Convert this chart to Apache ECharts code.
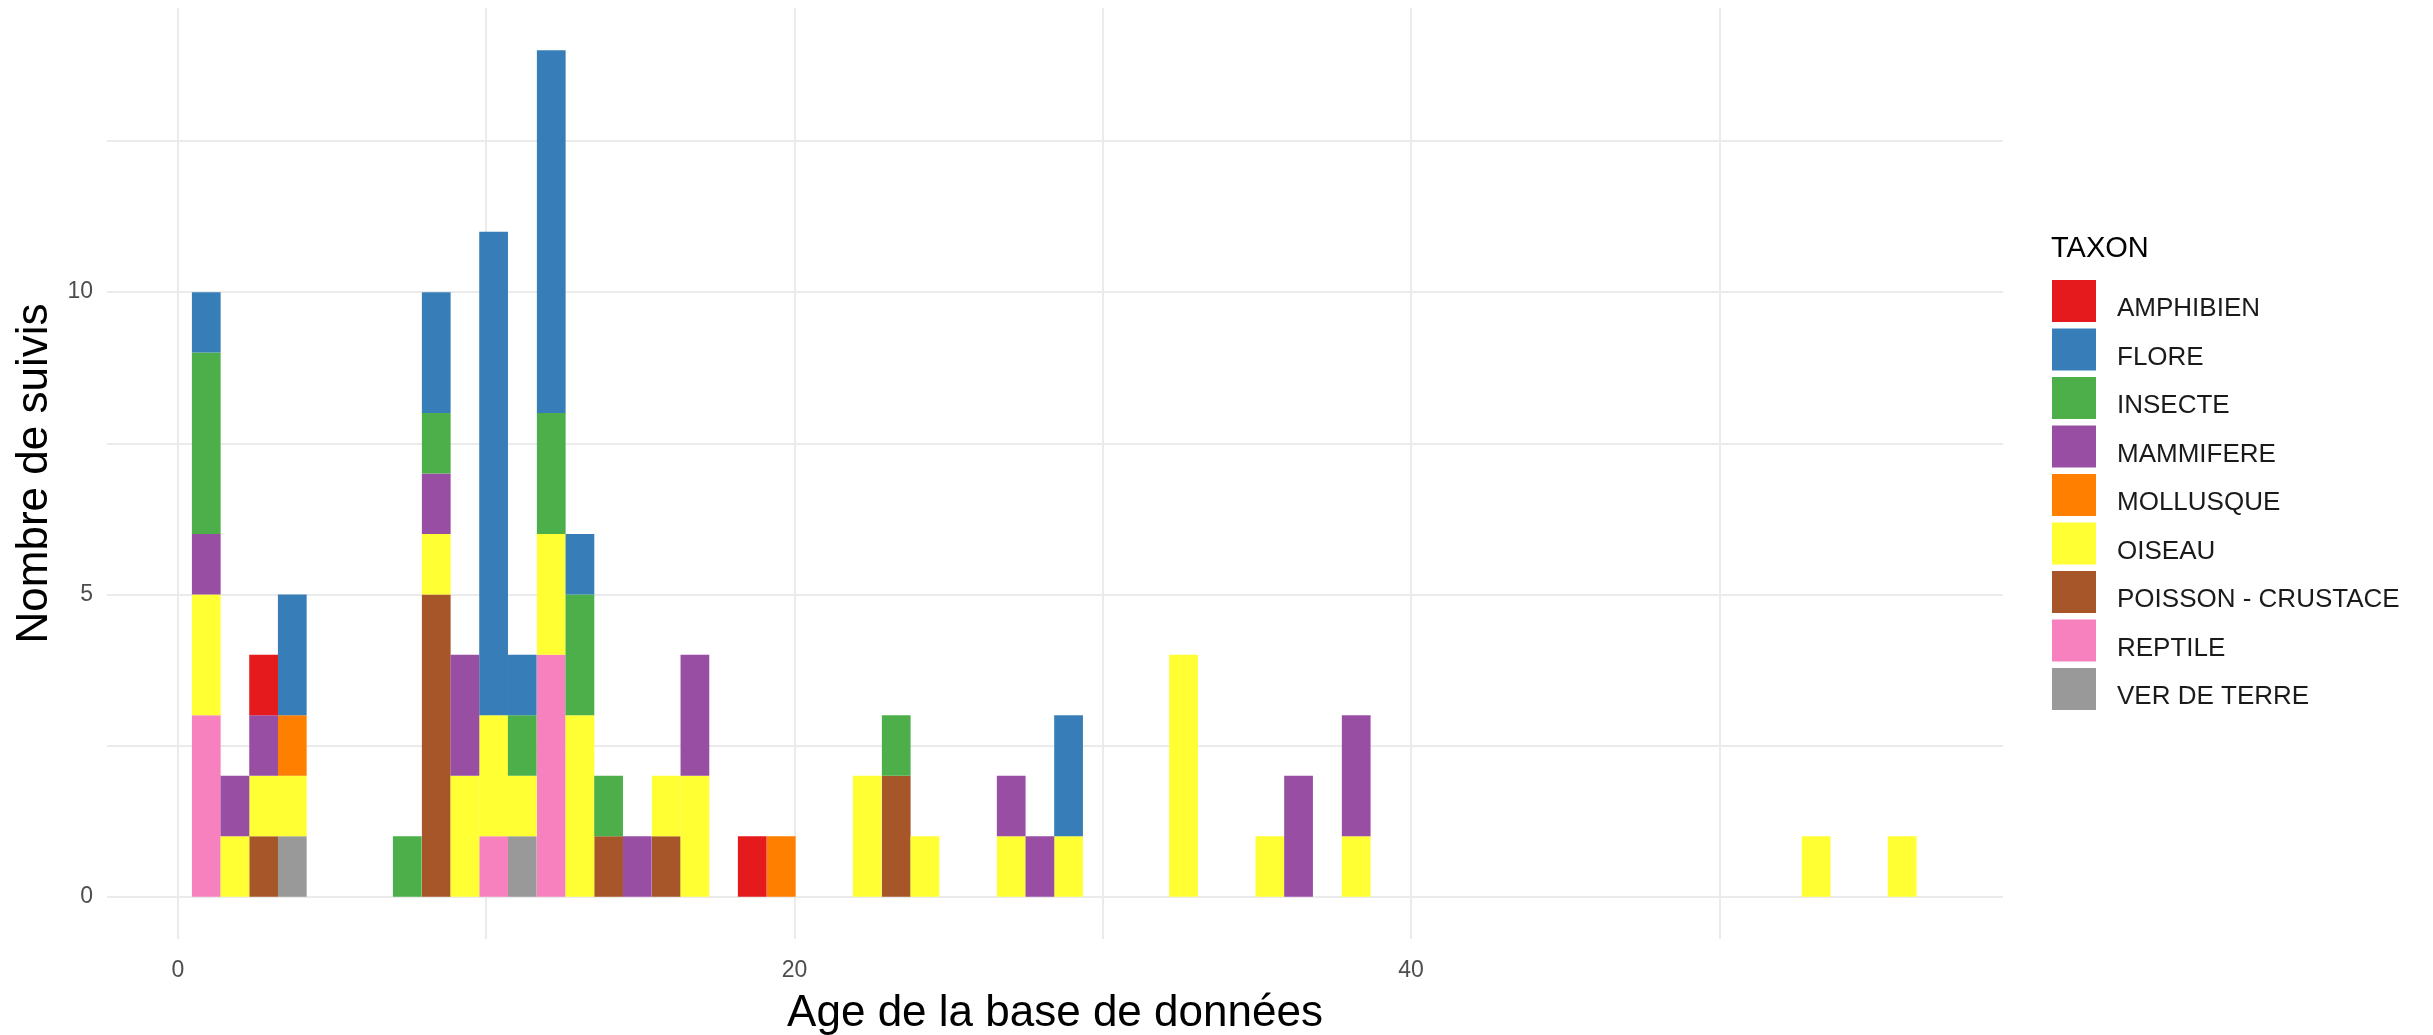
<!DOCTYPE html>
<html>
<head>
<meta charset="utf-8">
<script src="https://cdn.jsdelivr.net/npm/echarts@6/dist/echarts.min.js"></script>
<style>
  html, body { margin: 0; padding: 0; background: #ffffff; }
  #chart { width: 2433px; height: 1035px; }
</style>
</head>
<body>
<div id="chart"></div>
<script>
// ---- Data ----
// Legend order (ggplot factor levels)
const taxa = ['AMPHIBIEN', 'FLORE', 'INSECTE', 'MAMMIFERE', 'MOLLUSQUE', 'OISEAU', 'POISSON - CRUSTACE', 'REPTILE', 'VER DE TERRE'];
const taxaColors = ['#E41A1C', '#377EB8', '#4DAF4A', '#984EA3', '#FF7F00', '#FFFF33', '#A65628', '#F781BF', '#999999'];

// Histogram bin width and centres of the non-empty bins (age, years)
const binWidth = 0.9325;
const ages = [0.92, 1.85, 2.78, 3.71, 7.44, 8.38, 9.31, 10.24, 11.17, 12.11, 13.04, 13.97, 14.90, 15.84, 16.77,
              18.63, 19.57, 22.36, 23.30, 24.23, 27.03, 27.96, 28.89, 32.62, 35.42, 36.35, 38.22, 53.14, 55.93];

// Counts per taxon in each bin above
const amphibien  = [0,0,1,0,0,0,0,0,0,0,0,0,0,0,0,1,0,0,0,0,0,0,0,0,0,0,0,0,0];
const flore      = [1,0,0,2,0,2,0,8,1,6,1,0,0,0,0,0,0,0,0,0,0,0,2,0,0,0,0,0,0];
const insecte    = [3,0,0,0,1,1,0,0,1,2,2,1,0,0,0,0,0,0,1,0,0,0,0,0,0,0,0,0,0];
const mammifere  = [1,1,1,0,0,1,2,0,0,0,0,0,1,0,2,0,0,0,0,0,1,1,0,0,0,2,2,0,0];
const mollusque  = [0,0,0,1,0,0,0,0,0,0,0,0,0,0,0,0,1,0,0,0,0,0,0,0,0,0,0,0,0];
const oiseau     = [2,1,1,1,0,1,2,2,1,2,3,0,0,1,2,0,0,2,0,1,1,0,1,4,1,0,1,1,1];
const poisson    = [0,0,1,0,0,5,0,0,0,0,0,1,0,1,0,0,0,0,2,0,0,0,0,0,0,0,0,0,0];
const reptile    = [3,0,0,0,0,0,0,1,0,4,0,0,0,0,0,0,0,0,0,0,0,0,0,0,0,0,0,0,0];
const verDeTerre = [0,0,0,1,0,0,0,0,1,0,0,0,0,0,0,0,0,0,0,0,0,0,0,0,0,0,0,0,0];

// Axis ticks
const xGridTicks = [0, 10, 20, 30, 40, 50];
const xLabelTicks = [0, 20, 40];
const yGridTicks = [0, 2.5, 5, 7.5, 10, 12.5];
const yLabelTicks = [0, 5, 10];

// ---- Build stacked histogram ----
const countsByTaxon = {
  'AMPHIBIEN': amphibien, 'FLORE': flore, 'INSECTE': insecte, 'MAMMIFERE': mammifere,
  'MOLLUSQUE': mollusque, 'OISEAU': oiseau, 'POISSON - CRUSTACE': poisson,
  'REPTILE': reptile, 'VER DE TERRE': verDeTerre
};
// ggplot stacks the last level at the bottom
const stackOrder = taxa.slice().reverse();
const base = ages.map(() => 0);
const series = stackOrder.map(name => {
  const counts = countsByTaxon[name];
  const data = [];
  ages.forEach((a, i) => {
    if (counts[i] > 0) data.push([a, base[i], base[i] + counts[i]]);
    base[i] += counts[i];
  });
  return {
    name: name,
    type: 'custom',
    itemStyle: { color: taxaColors[taxa.indexOf(name)] },
    encode: { x: 0, y: [1, 2] },
    data: data,
    renderItem: function (params, api) {
      const x = api.value(0), y0 = api.value(1), y1 = api.value(2);
      const p0 = api.coord([x - binWidth / 2, y1]);
      const p1 = api.coord([x + binWidth / 2, y0]);
      return {
        type: 'rect',
        shape: { x: p0[0], y: p0[1], width: p1[0] - p0[0], height: p1[1] - p0[1] },
        style: { fill: api.visual('color') }
      };
    }
  };
});

const FONT = 'Liberation Sans, Arial, sans-serif';
const chart = echarts.init(document.getElementById('chart'), null, { renderer: 'canvas' });
chart.setOption({
  backgroundColor: '#ffffff',
  animation: false,
  textStyle: { fontFamily: FONT },
  title: {
    text: 'TAXON', left: 2051, top: 234, padding: 0,
    textStyle: { fontSize: 29, fontWeight: 'normal', color: '#000000', fontFamily: FONT }
  },
  legend: {
    orient: 'vertical', left: 2052, top: 280, padding: 0,
    itemWidth: 44, itemHeight: 42, itemGap: 6.5, icon: 'rect',
    selectedMode: false,
    data: taxa,
    formatter: '{t|{name}}',
    textStyle: {
      fontSize: 26, color: '#1A1A1A', fontFamily: FONT,
      rich: { t: { fontSize: 26, color: '#1A1A1A', fontFamily: FONT, padding: [16, 0, 0, 16] } }
    }
  },
  grid: { left: 107, right: 430, top: 8, bottom: 96, containLabel: false, outerBoundsMode: 'none' },
  xAxis: {
    type: 'value', min: -2.3, max: 59.2,
    name: 'Age de la base de données', nameLocation: 'middle', nameGap: 53,
    nameTextStyle: { fontSize: 44, color: '#000000', fontFamily: FONT },
    axisLine: { show: false },
    axisTick: { show: false, customValues: xGridTicks },
    axisLabel: { customValues: xLabelTicks, fontSize: 23, color: '#4D4D4D', margin: 20 },
    splitLine: { show: true, lineStyle: { color: '#EBEBEB', width: 2 } }
  },
  yAxis: {
    type: 'value', min: -0.7, max: 14.7,
    name: 'Nombre de suivis', nameLocation: 'middle', nameGap: 46,
    nameTextStyle: { fontSize: 44, color: '#000000', fontFamily: FONT },
    axisLine: { show: false },
    axisTick: { show: false, customValues: yGridTicks },
    axisLabel: { customValues: yLabelTicks, fontSize: 23, color: '#4D4D4D', margin: 14 },
    splitLine: { show: true, lineStyle: { color: '#EBEBEB', width: 2 } }
  },
  series: series
});
</script>
</body>
</html>
